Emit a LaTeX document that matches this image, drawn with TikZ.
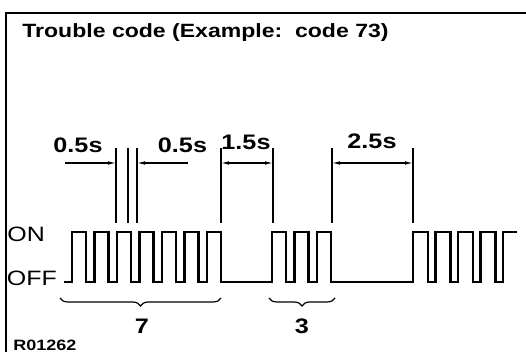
\documentclass[tikz,border=0pt]{standalone}
\usepackage{fontspec}
\usepackage{graphicx}
\setmainfont{Liberation Sans}
\usetikzlibrary{arrows.meta,decorations.pathreplacing}

% the original lettering is a wide grotesque
\newcommand{\widetext}[1]{\scalebox{1.2}[1]{#1}}

\tikzset{
  wave/.style={line width=1.1pt,line join=miter},
  extline/.style={line width=0.55pt},
  dimarrow/.style={line width=0.55pt,-{Latex[length=4pt,width=1.8pt]}},
  dimboth/.style={line width=0.55pt,{Latex[length=4pt,width=1.8pt]}-{Latex[length=4pt,width=1.8pt]}},
  titletext/.style={inner sep=0pt,font=\bfseries\fontsize{9.6}{11}\selectfont},
  timelabel/.style={inner sep=0pt,font=\bfseries\fontsize{10.5}{12}\selectfont},
  levellabel/.style={inner sep=0pt,font=\fontsize{10.4}{12}\selectfont},
  countbrace/.style={decorate,decoration={brace,mirror,amplitude=4pt},line width=0.6pt},
}

\begin{document}
\begin{tikzpicture}[x=0.5pt,y=0.5pt]
  \useasboundingbox (0,0) rectangle (526,352);
  % frame
  \draw[line width=1pt] (5.5,0) -- (5.5,339) -- (526,339);
  \node[titletext,anchor=west] (title) at (22,319) {\widetext{Trouble code (Example:\ \ code 73)}};

  % signal levels
  \node[levellabel,anchor=west] (on) at (7,117.5) {\widetext{ON}};
  \node[levellabel,anchor=west] (off) at (6.5,73.5) {\widetext{OFF}};

  % pulse train: 7 pulses, pause, 3 pulses, pause, repeat
  \draw[wave] (64,70)
    foreach \x in {72,94.5,117,139.5,162,184.5,207} {-- (\x,70) -- (\x,120) -- (\x+14,120) -- (\x+14,70)}
    foreach \x in {272,294.5,317} {-- (\x,70) -- (\x,120) -- (\x+14,120) -- (\x+14,70)}
    foreach \x in {413,435.5,458,480.5} {-- (\x,70) -- (\x,120) -- (\x+15,120) -- (\x+15,70)}
    -- (503,70) -- (503,120) -- (517,120);

  % extension lines
  \foreach \x in {116,128,137,221,273,332,413}
    \draw[extline] (\x,129) -- (\x,204);

  % timing arrows
  \coordinate (s1) at (65,189);
  \coordinate (e1) at (116,189);
  \coordinate (e3) at (137,189);
  \coordinate (s2) at (188,189);
  \coordinate (e4) at (221,189);
  \coordinate (e5) at (273,189);
  \coordinate (e6) at (332,189);
  \coordinate (e7) at (413,189);
  \draw[dimarrow] (s1) -- (e1);
  \draw[dimarrow] (s2) -- (e3);
  \draw[dimboth] (e4) -- (e5);
  \draw[dimboth] (e6) -- (e7);

  \node[timelabel] (t1) at (78,207) {\widetext{0.5s}};
  \node[timelabel] (t2) at (182.5,207) {\widetext{0.5s}};
  \node[timelabel] (t3) at (246,210) {\widetext{1.5s}};
  \node[timelabel] (t4) at (372,211) {\widetext{2.5s}};

  % digit counts
  \draw[countbrace] (60,54) -- (221,54);
  \draw[countbrace] (269,54) -- (335,54);
  \node[timelabel] (n7) at (142,26) {\widetext{7}};
  \node[timelabel] (n3) at (302,26) {\widetext{3}};

  \node[inner sep=0pt,anchor=west,font=\bfseries\fontsize{7.5}{9}\selectfont] (fig) at (13,7) {\widetext{R01262}};
\end{tikzpicture}
\end{document}
